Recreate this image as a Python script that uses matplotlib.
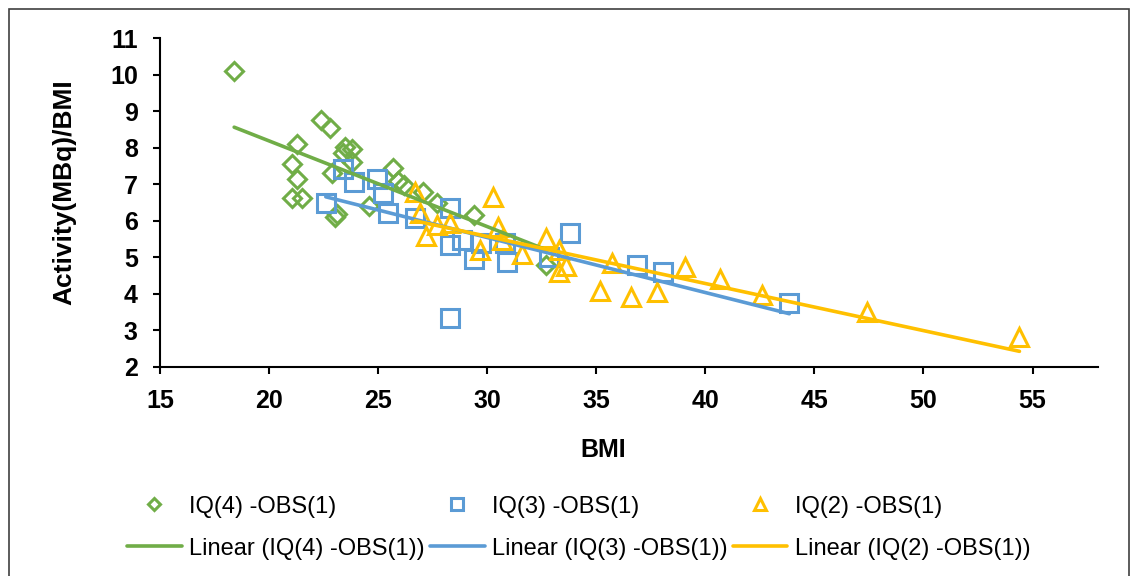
import matplotlib.pyplot as plt
import matplotlib.patches as patches
import numpy as np

plt.rcParams.update({
    'font.family': ['Liberation Sans', 'DejaVu Sans'],
    'font.size': 16,
})

# IQ(4) -OBS(1) : BMI, Activity(MBq)/BMI
iq4_bmi = [18.4, 21.05, 21.3, 21.3, 21.05, 21.5, 22.4, 22.8, 22.9, 23.0, 23.1, 23.4,
           23.5, 23.8, 23.8, 24.6, 25.7, 25.9, 26.2, 27.05, 27.7, 29.4, 32.7]
iq4_act = [10.09, 7.55, 8.09, 7.14, 6.62, 6.62, 8.75, 8.55, 7.3, 6.1, 6.18, 7.85,
           8.02, 7.95, 7.6, 6.4, 7.45, 7.1, 6.97, 6.8, 6.5, 6.15, 4.78]

# IQ(3) -OBS(1)
iq3_bmi = [22.6, 23.4, 23.9, 24.95, 25.2, 25.45, 26.7, 28.3, 28.3, 28.3, 28.85,
           29.4, 29.7, 30.9, 30.8, 32.85, 33.8, 36.85, 38.05, 43.85]
iq3_act = [6.48, 7.42, 7.05, 7.15, 6.75, 6.2, 6.07, 6.34, 5.33, 3.34, 5.47,
           4.95, 5.4, 4.87, 5.4, 5.0, 5.66, 4.79, 4.6, 3.75]

# IQ(2) -OBS(1)
iq2_bmi = [26.7, 26.9, 27.2, 27.7, 28.3, 29.65, 30.25, 30.5, 30.7, 31.6, 32.7, 33.3,
           33.6, 33.3, 35.15, 35.7, 36.6, 37.8, 39.05, 40.65, 42.6, 47.4, 54.4]
iq2_act = [6.8, 6.2, 5.58, 5.88, 5.93, 5.2, 6.65, 5.83, 5.47, 5.1, 5.53, 5.2,
           4.75, 4.6, 4.08, 4.84, 3.92, 4.05, 4.73, 4.42, 3.98, 3.5, 2.82]

labels = ['IQ(4) -OBS(1)', 'IQ(3) -OBS(1)', 'IQ(2) -OBS(1)']
colors = ['#70AD47', '#5B9BD5', '#FFC000']
markers = ['D', 's', '^']
msizes = [9.5, 13, 13]

fig = plt.figure(figsize=(11.37, 5.76), dpi=100)
ax = fig.add_axes([160 / 1137, 1 - 367 / 576, 938 / 1137, 329 / 576])

series = [(iq4_bmi, iq4_act), (iq3_bmi, iq3_act), (iq2_bmi, iq2_act)]
pts = []
for (x, y), lab, c, m, s in zip(series, labels, colors, markers, msizes):
    h, = ax.plot(x, y, linestyle='none', marker=m, markersize=s, markerfacecolor='none',
                 markeredgecolor=c, markeredgewidth=2.2, label=lab, zorder=2)
    pts.append(h)

# linear trendlines (least squares, like Excel)
lines = []
for (x, y), lab, c in zip(series, labels, colors):
    x = np.array(x)
    k, b = np.polyfit(x, y, 1)
    xs = np.array([x.min(), x.max()])
    h, = ax.plot(xs, k * xs + b, color=c, lw=2.6, solid_capstyle='round',
                 label='Linear (' + lab + ')', zorder=3)
    lines.append(h)

ax.set_xlim(15, 58)
ax.set_ylim(2, 11)
ax.set_xticks(np.arange(15, 56, 5))
ax.set_yticks(np.arange(2, 12, 1))
for side in ['top', 'right']:
    ax.spines[side].set_visible(False)
for side in ['left', 'bottom']:
    ax.spines[side].set_linewidth(1.5)
ax.tick_params(direction='out', length=5, width=1.5, pad=11, labelsize=18)
for t in ax.get_xticklabels() + ax.get_yticklabels():
    t.set_fontweight('bold')

ax.set_xlabel('BMI', fontsize=18, fontweight='bold')
ax.xaxis.set_label_coords(0.473, -0.252)
ax.xaxis.label.set_va('center')
ax.set_ylabel('Activity(MBq)/BMI', fontsize=19, fontweight='bold')
ax.yaxis.set_label_coords(-0.1025, 0.53)
ax.yaxis.label.set_va('center')

handles = [pts[0], lines[0], pts[1], lines[1], pts[2], lines[2]]
fig.legend(handles=handles, labels=[h.get_label() for h in handles], ncol=3,
           loc='center', bbox_to_anchor=(0.509, 0.084), frameon=False,
           fontsize=17, handlelength=2.3, handletextpad=0.3, columnspacing=0.25,
           labelspacing=0.85, markerscale=0.65)

fig.add_artist(patches.Rectangle((9 / 1137, -0.01), 1120 / 1137, 1 - 9 / 576 + 0.01,
                                 transform=fig.transFigure, fill=False,
                                 edgecolor='#404040', lw=1.2))

fig.savefig('out.png', dpi=100)
